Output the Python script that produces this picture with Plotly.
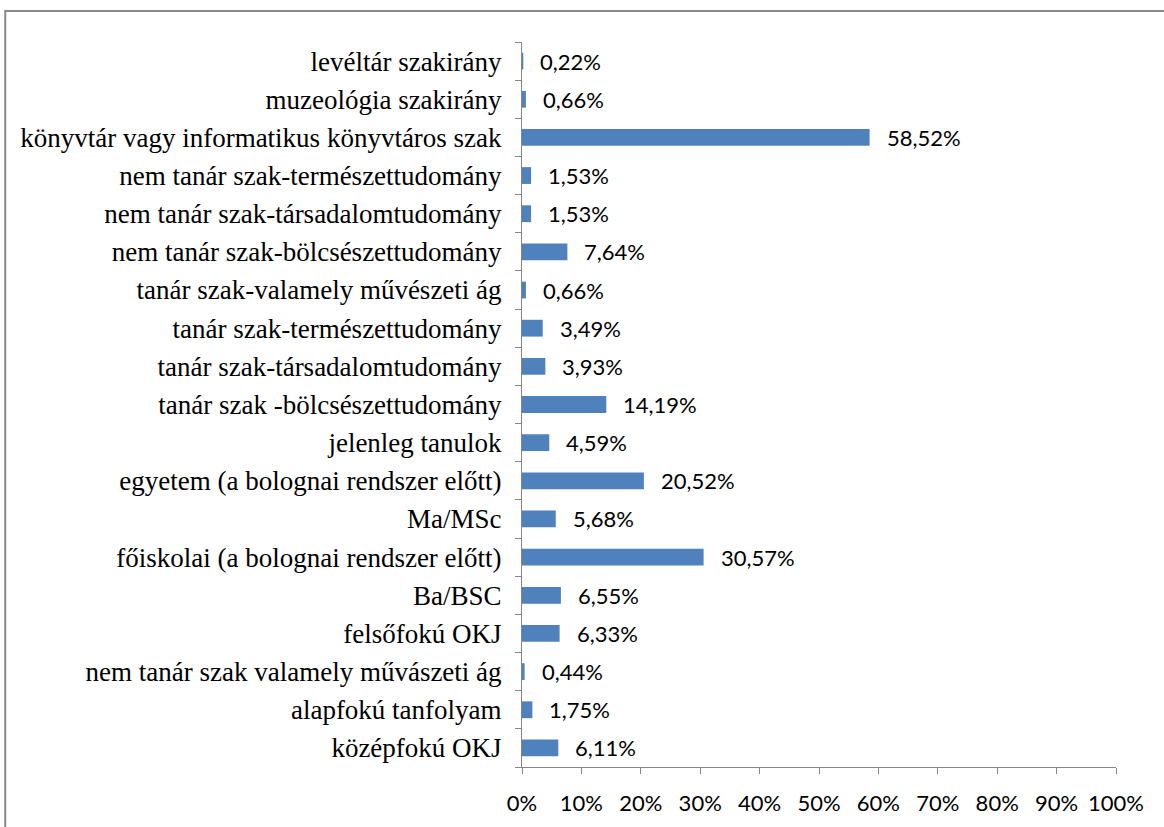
import plotly.graph_objects as go

categories = [
    "középfokú OKJ",
    "alapfokú tanfolyam",
    "nem tanár szak valamely művászeti ág",
    "felsőfokú OKJ",
    "Ba/BSC",
    "főiskolai (a bolognai rendszer előtt)",
    "Ma/MSc",
    "egyetem (a bolognai rendszer előtt)",
    "jelenleg tanulok",
    "tanár szak -bölcsészettudomány",
    "tanár szak-társadalomtudomány",
    "tanár szak-természettudomány",
    "tanár szak-valamely művészeti ág",
    "nem tanár szak-bölcsészettudomány",
    "nem tanár szak-társadalomtudomány",
    "nem tanár szak-természettudomány",
    "könyvtár vagy informatikus könyvtáros szak",
    "muzeológia szakirány",
    "levéltár szakirány",
]
values = [6.11, 1.75, 0.44, 6.33, 6.55, 30.57, 5.68, 20.52, 4.59, 14.19,
          3.93, 3.49, 0.66, 7.64, 1.53, 1.53, 58.52, 0.66, 0.22]
tick_vals = [0, 10, 20, 30, 40, 50, 60, 70, 80, 90, 100]
tick_text = [f"{v}%" for v in tick_vals]

labels = [f"{v:.2f}%".replace(".", ",") for v in values]

sans = "Lato"
serif = "Liberation Serif, Times New Roman, serif"
axis_col = "#868686"

fig = go.Figure()
fig.add_trace(go.Bar(
    x=values, y=categories, orientation="h",
    marker=dict(color="#4F81BD", line=dict(width=0)),
    hoverinfo="skip",
))

for c, v, t in zip(categories, values, labels):
    fig.add_annotation(x=v, y=c, text=t, showarrow=False, xanchor="left",
                       xshift=15, font=dict(family=sans, size=22, color="#000000"))

fig.add_shape(type="rect", xref="paper", yref="paper",
              x0=-0.870, y0=-0.2, x1=1.2, y1=1.0428,
              line=dict(color="#898989", width=2), fillcolor="rgba(0,0,0,0)",
              layer="above")

fig.update_layout(
    width=1164, height=827,
    margin=dict(l=522, r=48, t=42, b=60),
    paper_bgcolor="white", plot_bgcolor="white",
    bargap=0.56,
    showlegend=False,
    hovermode=False,
    xaxis=dict(
        range=[0, 100], tickvals=tick_vals, ticktext=tick_text,
        showgrid=False, zeroline=False,
        showline=True, linecolor=axis_col, linewidth=1,
        ticks="outside", ticklen=6, tickcolor=axis_col,
        tickfont=dict(family=sans, size=22, color="#000000"),
        ticklabelstandoff=11,
    ),
    yaxis=dict(
        type="category", range=[-0.5, 18.5],
        showgrid=False, zeroline=False,
        showline=True, linecolor=axis_col, linewidth=1,
        ticks="outside", ticklen=6, tickcolor=axis_col, tickson="boundaries",
        tickfont=dict(family=serif, size=27, color="#000000"),
        ticklabelstandoff=14,
    ),
)

fig.write_html("out.html", config={"displayModeBar": False, "staticPlot": True},
               post_script="document.body.style.margin='0';document.body.style.overflow='hidden';")
